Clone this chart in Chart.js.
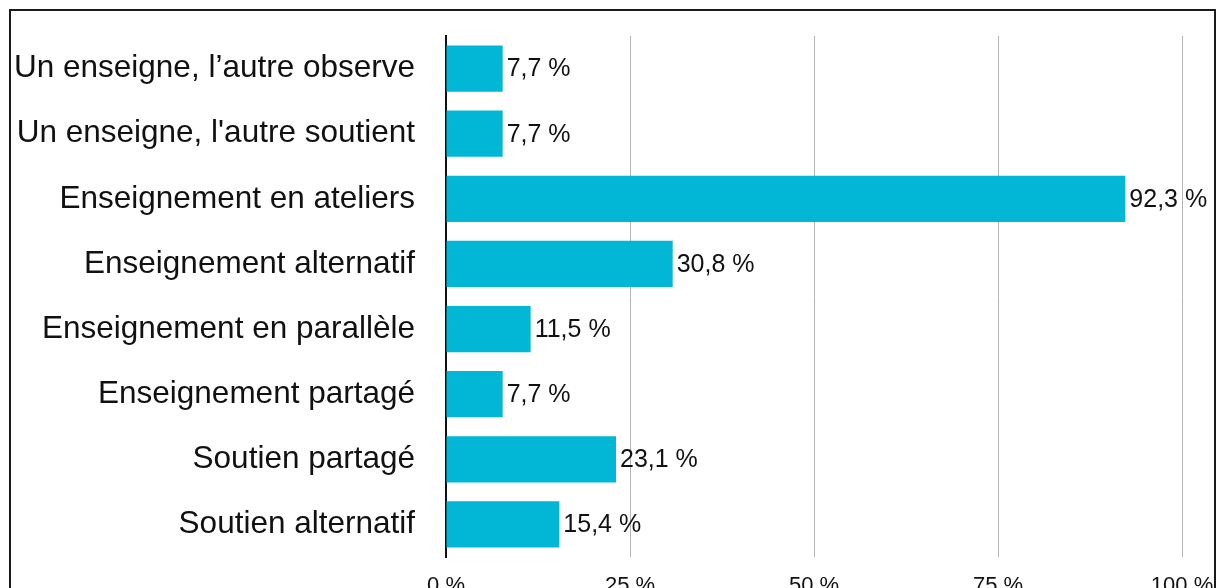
<!DOCTYPE html>
<html lang="fr">
<head>
  <meta charset="UTF-8" />
  <title>Modalités de coenseignement</title>
  <script src="https://cdn.jsdelivr.net/npm/chart.js"></script>
  <style>
    html, body {
      margin: 0;
      padding: 0;
      background: #fff;
      overflow: hidden;
    }
    .frame {
      position: absolute;
      left: 9px;
      top: 9px;
      width: 1207px;
      height: 700px;
      box-sizing: border-box;
      border: 2px solid #1a1a1a;
      pointer-events: none;
    }
    #chart {
      position: absolute;
      left: 0;
      top: 0;
    }
  </style>
</head>
<body>
  <canvas id="chart" width="1221" height="600"></canvas>
  <div class="frame"></div>

  <script>
    const categories = [
      'Un enseigne, l’autre observe',
      "Un enseigne, l'autre soutient",
      'Enseignement en ateliers',
      'Enseignement alternatif',
      'Enseignement en parallèle',
      'Enseignement partagé',
      'Soutien partagé',
      'Soutien alternatif'
    ];
    const percentages = [7.7, 7.7, 92.3, 30.8, 11.5, 7.7, 23.1, 15.4];
    const xTicks = [0, 25, 50, 75, 100];

    const FONT = "'Liberation Sans', Arial, Helvetica, sans-serif";
    const barColor = '#02b7d6';

    function fmt(v) {
      return String(v).replace('.', ',') + ' %';
    }

    // étiquettes de valeur à droite des barres
    const valueLabels = {
      id: 'valueLabels',
      afterDatasetsDraw(chart) {
        const ctx = chart.ctx;
        const meta = chart.getDatasetMeta(0);
        ctx.save();
        ctx.font = '25px ' + FONT;
        ctx.fillStyle = '#111';
        ctx.textAlign = 'left';
        ctx.textBaseline = 'middle';
        meta.data.forEach((bar, i) => {
          ctx.fillText(fmt(percentages[i]), bar.x + 4, bar.y + 1);
        });
        ctx.restore();
      }
    };

    new Chart(document.getElementById('chart'), {
      type: 'bar',
      data: {
        labels: categories,
        datasets: [{
          data: percentages,
          backgroundColor: barColor,
          borderWidth: 0,
          barPercentage: 0.71,
          categoryPercentage: 1
        }]
      },
      options: {
        indexAxis: 'y',
        responsive: false,
        animation: false,
        devicePixelRatio: 1,
        layout: {
          padding: { top: 36, right: 39, bottom: 0, left: 0 }
        },
        plugins: {
          legend: { display: false },
          tooltip: { enabled: false }
        },
        scales: {
          x: {
            min: 0,
            max: 100,
            afterBuildTicks(scale) {
              scale.ticks = xTicks.map(v => ({ value: v }));
            },
            afterFit(scale) {
              scale.height = 43;
              scale.paddingLeft = 0;
              scale.paddingRight = 0;
            },
            grid: {
              color: '#b5b5b5',
              lineWidth: 1,
              drawTicks: false
            },
            border: { display: false },
            ticks: {
              padding: 16,
              color: '#111',
              font: { family: FONT, size: 22 },
              callback: v => v + ' %'
            }
          },
          y: {
            afterFit(scale) {
              scale.width = 446;
              scale.paddingTop = 0;
              scale.paddingBottom = 0;
            },
            grid: { display: false, drawTicks: false },
            border: { display: true, color: '#111', width: 2 },
            ticks: {
              padding: 31,
              color: '#111',
              font: { family: FONT, size: 31.5 }
            }
          }
        }
      },
      plugins: [valueLabels]
    });
  </script>
</body>
</html>
